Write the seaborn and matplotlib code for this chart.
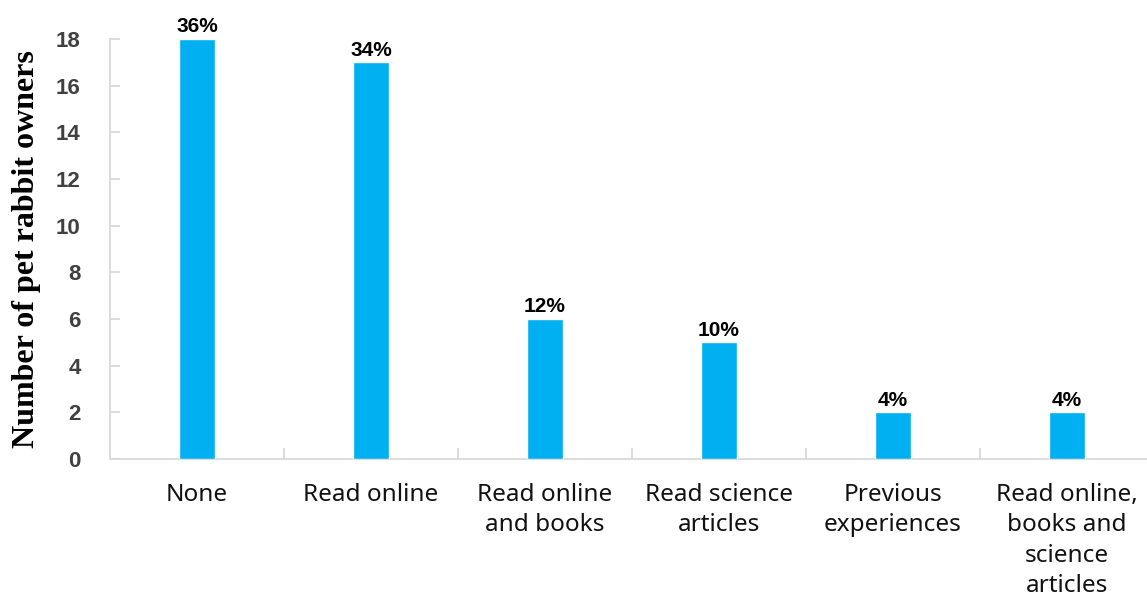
import matplotlib
matplotlib.use("Agg")
import matplotlib.pyplot as plt
import seaborn as sns
import pandas as pd

# Sources of information used by pet rabbit owners
categories = [
    "None",
    "Read online",
    "Read online\nand books",
    "Read science\narticles",
    "Previous\nexperiences",
    "Read online,\nbooks and\nscience\narticles",
]
owners = [18, 17, 6, 5, 2, 2]
total_respondents = 50
y_ticks = [0, 2, 4, 6, 8, 10, 12, 14, 16, 18]

df = pd.DataFrame({"source": categories, "owners": owners})

sns.set_theme(style="white")
plt.rcParams["font.family"] = ["Liberation Sans", "DejaVu Sans"]

fig = plt.figure(figsize=(11.47, 5.99), dpi=100)
ax = fig.add_axes([110 / 1147, 140 / 599, 1037 / 1147, 420 / 599])

sns.barplot(data=df, x="source", y="owners", color="#00B0F0", saturation=1,
            width=0.207, ax=ax, zorder=3)

ax.set_xlim(-0.5, 5.46)
ax.set_ylim(0, 18)
ax.set_yticks(y_ticks)

axis_grey = "#d9d9d9"
for side in ("top", "right"):
    ax.spines[side].set_visible(False)
for side in ("left", "bottom"):
    ax.spines[side].set_color(axis_grey)
    ax.spines[side].set_linewidth(1.3)

# Category boundaries as inward tick marks on the x axis
ax.set_xticks([i + 0.5 for i in range(len(categories) - 1)], minor=True)
ax.tick_params(axis="x", which="minor", direction="in", length=8, width=1.3,
               color=axis_grey, bottom=True)
ax.tick_params(axis="x", which="major", length=0, pad=17)
ax.tick_params(axis="y", which="major", direction="in", length=7, width=1.3,
               color=axis_grey, left=True, pad=21)

for lbl in ax.get_xticklabels():
    lbl.set_fontfamily(["Noto Sans", "DejaVu Sans"])
    lbl.set_fontsize(17.5)
    lbl.set_color("#111111")
    lbl.set_linespacing(1.36)
    lbl.set_verticalalignment("top")
for lbl in ax.get_yticklabels():
    lbl.set_fontweight("bold")
    lbl.set_fontsize(16)
    lbl.set_color("#404040")

ax.set_xlabel("")
ax.set_ylabel("Number of pet rabbit owners", fontfamily="Liberation Serif",
              fontweight="bold", fontsize=23, color="black", labelpad=11)

# Share of respondents above each bar
for i, n in enumerate(owners):
    pct = round(n / total_respondents * 100)
    ax.annotate(f"{pct}%", (i, n), xytext=(0, 2), textcoords="offset points",
                ha="center", va="bottom", fontsize=15, fontweight="bold",
                color="black", annotation_clip=False)

fig.savefig("out.png", dpi=100)
